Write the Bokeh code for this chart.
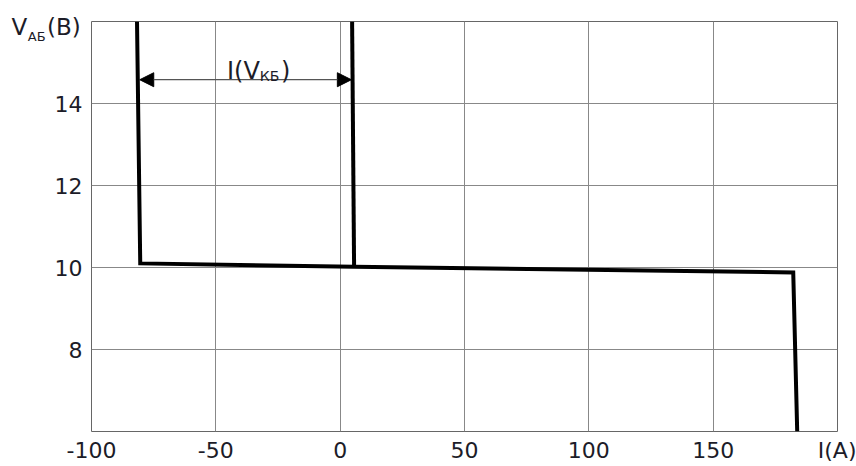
from bokeh.plotting import figure
from bokeh.models import Range1d, FixedTicker, Arrow, NormalHead, Label
from bokeh.embed import file_html
from bokeh.resources import INLINE

# ---- data ----
curve_i = [-81.7, -80.4, 5.6, 182.2, 183.8]
curve_v = [16.0, 10.10, 10.02, 9.88, 6.0]
branch_i = [4.8, 5.6]
branch_v = [16.0, 10.02]
x_ticks = [-100, -50, 0, 50, 100, 150, 200]
x_tick_labels = ["-100", "-50", "0", "50", "100", "150", "I(А)"]
y_ticks = [8, 10, 12, 14]
y_tick_labels = ["8", "10", "12", "14"]
arrow_v = 14.58
arrow_i = [-80.6, 4.5]

FONT = "DejaVu Sans"
TXT = "#1c1c28"
W, H = 856, 466

p = figure(width=W, height=H, output_backend="svg", toolbar_location=None,
           x_range=Range1d(-100, 200), y_range=Range1d(6, 16),
           min_border_left=91, min_border_right=19, min_border_top=21, min_border_bottom=35)
p.background_fill_color = "white"
p.border_fill_color = "white"
p.outline_line_color = "#666666"
p.outline_line_width = 1

p.xaxis.ticker = FixedTicker(ticks=x_ticks)
p.yaxis.ticker = FixedTicker(ticks=y_ticks)
p.xaxis.major_label_overrides = {t: l for t, l in zip(x_ticks, x_tick_labels)}
p.yaxis.major_label_overrides = {t: l for t, l in zip(y_ticks, y_tick_labels)}
for ax in (p.xaxis, p.yaxis):
    ax.axis_line_color = None
    ax.major_tick_line_color = None
    ax.minor_tick_line_color = None
    ax.major_tick_in = 0
    ax.major_tick_out = 0
    ax.minor_tick_out = 0
    ax.major_label_text_font = FONT
    ax.major_label_text_font_size = "22px"
    ax.major_label_text_color = TXT
p.xaxis.major_label_standoff = 6
p.yaxis.major_label_standoff = 9

p.xgrid.ticker = FixedTicker(ticks=x_ticks)
p.ygrid.ticker = FixedTicker(ticks=y_ticks)
p.grid.grid_line_color = "#888888"
p.grid.grid_line_width = 1

# main characteristic
p.line(curve_i, curve_v, line_color="black", line_width=4, line_join="miter")
p.line(branch_i, branch_v, line_color="black", line_width=4)

# dimension arrow
p.add_layout(Arrow(x_start=arrow_i[0], y_start=arrow_v, x_end=arrow_i[1], y_end=arrow_v,
                   line_color="#555555", line_width=1.2,
                   start=NormalHead(size=14, fill_color="black", line_color="black"),
                   end=NormalHead(size=14, fill_color="black", line_color="black")))

def lab(x, y, t, size, place=None):
    l = Label(x=x, y=y, text=t, text_font=FONT, text_font_size=size,
              text_color=TXT, text_baseline="alphabetic", text_align="left")
    if place is None:
        p.add_layout(l)
    else:
        p.add_layout(l, place)

# I(V_КБ) annotation
lab(-45.5, 14.79, "I(V", "24px")
lab(-32.3, 14.66, "КБ", "14px")
lab(-23.8, 14.79, ")", "24px")

# axis title V_АБ(В) -- placed in side panels so it is not clipped to the frame
lab(-132.2, 15.86, "V", "23px", "left")
lab(-117.9, 15.86, "(В)", "23px", "left")
lab(-125.6, 15.64, "АБ", "13px", "above")

open("out.html", "w").write(file_html(p, INLINE))
